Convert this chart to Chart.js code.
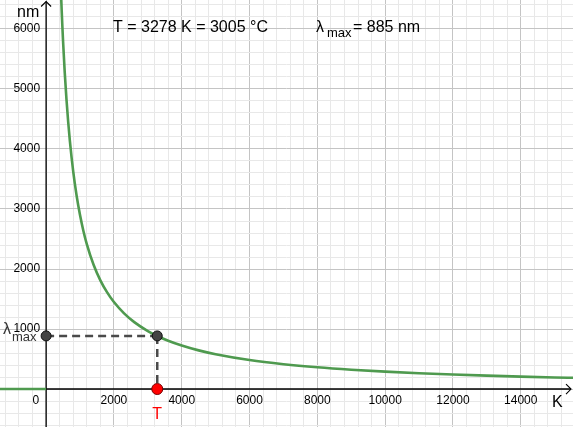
<!DOCTYPE html>
<html><head><meta charset="utf-8">
<script src="https://cdn.jsdelivr.net/npm/chart.js@4"></script>
<style>html,body{margin:0;padding:0;background:#fff;overflow:hidden}canvas{display:block}</style>
</head><body>
<canvas id="c" width="573" height="427"></canvas>
<script>
// Data (Wien's law curve, K -> nm)
const temps = [440, 460, 480, 500, 550, 600, 650, 700, 800, 900, 1000, 1100, 1200, 1400, 1600, 1800, 2000, 2300, 2600, 3000, 3278, 3600, 4000, 4500, 5000, 6000, 7000, 8000, 9000, 10000, 11000, 12000, 13000, 14000, 15000, 15600];
const lambdas = [6586, 6300, 6037, 5796, 5269, 4830, 4458, 4140, 3622, 3220, 2898, 2634, 2415, 2070, 1811, 1610, 1449, 1260, 1115, 966, 884, 805, 725, 644, 580, 483, 414, 362, 322, 290, 263, 241, 223, 207, 193, 186];
const zeroPartX = [-1360, 0];
const zeroPartY = [0, 0];
const selT = 3278;
const selLambda = 885;
const selC = 3005;
const xTickLabels = [0, 2000, 4000, 6000, 8000, 10000, 12000, 14000];
const yTickLabels = [1000, 2000, 3000, 4000, 5000, 6000];

const FONT = '"Liberation Sans", Arial, sans-serif';
const curvePts = temps.map((t, i) => ({x: t, y: lambdas[i]}));
const zeroPts = zeroPartX.map((x, i) => ({x, y: zeroPartY[i]}));

const overlay = {
  id: 'overlay',
  beforeDatasetsDraw(chart) {
    const ctx = chart.ctx, xs = chart.scales.x, ys = chart.scales.y;
    const x0 = xs.getPixelForValue(0), y0 = ys.getPixelForValue(0);
    const W = chart.width;
    ctx.save();
    ctx.strokeStyle = '#000'; ctx.lineWidth = 1.3;
    ctx.beginPath();
    ctx.moveTo(0, y0); ctx.lineTo(W - 2, y0);
    ctx.moveTo(x0, chart.height); ctx.lineTo(x0, 1.5);
    ctx.stroke();
    ctx.lineWidth = 1.1;
    ctx.beginPath();
    ctx.moveTo(W - 7, y0 - 5); ctx.lineTo(W - 2, y0); ctx.lineTo(W - 7, y0 + 5);
    ctx.moveTo(x0 - 5, 6.5); ctx.lineTo(x0, 1.5); ctx.lineTo(x0 + 5, 6.5);
    ctx.stroke();
    // tick labels
    ctx.fillStyle = '#000';
    ctx.font = '12px ' + FONT;
    ctx.textBaseline = 'middle';
    ctx.textAlign = 'right';
    yTickLabels.forEach(v => ctx.fillText(String(v), x0 - 6, ys.getPixelForValue(v)));
    ctx.textAlign = 'center';
    xTickLabels.forEach(v => {
      if (v === 0) { ctx.textAlign = 'right'; ctx.fillText('0', x0 - 7, y0 + 12); ctx.textAlign = 'center'; }
      else ctx.fillText(String(v), xs.getPixelForValue(v), y0 + 12);
    });
    // axis names
    ctx.font = '16px ' + FONT;
    ctx.textBaseline = 'alphabetic';
    ctx.textAlign = 'left';
    ctx.fillText('nm', 17, 17);
    ctx.fillText('K', 552, 407);
    // header text
    ctx.fillText('T = ' + selT + ' K = ' + selC + ' °C', 113, 31.5);
    ctx.fillText('λ', 316, 31.5);
    ctx.font = '13px ' + FONT;
    ctx.fillText('max', 327, 37);
    ctx.font = '16px ' + FONT;
    ctx.fillText('= ' + selLambda + ' nm', 353, 31.5);
    // lambda_max label on y axis
    ctx.fillStyle = '#333';
    ctx.fillText('λ', 3, 334);
    ctx.font = '13px ' + FONT;
    ctx.fillText('max', 12, 341);
    // T label
    ctx.fillStyle = '#ff0000';
    ctx.font = '16px ' + FONT;
    ctx.textAlign = 'center';
    ctx.fillText('T', xs.getPixelForValue(selT), 419);
    ctx.restore();
  }
};

function gridColor(major, majCol, minCol) {
  return (c) => {
    const v = c.tick ? Math.round(c.tick.value) : NaN;
    if (!isFinite(v)) return 'rgba(0,0,0,0)';
    return v % major === 0 ? majCol : minCol;
  };
}
function gridTicks(step) {
  return (scale) => {
    const t = [];
    for (let v = Math.ceil(scale.min / step) * step; v <= scale.max; v += step) t.push({value: v});
    scale.ticks = t;
  };
}

new Chart(document.getElementById('c'), {
  type: 'scatter',
  data: {
    datasets: [
      {data: [{x: 0, y: selLambda}, {x: selT, y: selLambda}], showLine: true, borderColor: '#4a4a4a', borderWidth: 2.5, borderDash: [8, 5], pointRadius: 0, order: 3},
      {data: [{x: selT, y: selLambda}, {x: selT, y: 0}], showLine: true, borderColor: '#4a4a4a', borderWidth: 2.5, borderDash: [8, 5], pointRadius: 0, order: 3},
      {data: curvePts, showLine: true, borderColor: '#4f9a4f', borderWidth: 2.6, pointRadius: 0, cubicInterpolationMode: 'monotone', order: 2},
      {data: zeroPts, showLine: true, borderColor: '#4f9a4f', borderWidth: 2.6, pointRadius: 0, order: 2},
      {data: [{x: 0, y: selLambda}, {x: selT, y: selLambda}], showLine: false, pointRadius: 5, backgroundColor: '#444', borderColor: '#111', borderWidth: 1, order: 1},
      {data: [{x: selT, y: 0}], showLine: false, pointRadius: 5.5, backgroundColor: '#ff0000', borderColor: '#700', borderWidth: 1, order: 0}
    ]
  },
  options: {
    responsive: false,
    animation: false,
    devicePixelRatio: 1,
    layout: {padding: 0, autoPadding: false},
    plugins: {legend: {display: false}, tooltip: {enabled: false}},
    events: [],
    scales: {
      x: {type: 'linear', min: -1360, max: 15540,
          afterBuildTicks: gridTicks(400),
          ticks: {display: false},
          border: {display: false},
          grid: {drawTicks: false, lineWidth: 1, color: gridColor(2000, '#c4c4c4', '#e8e8e8')}},
      y: {type: 'linear', min: -633, max: 6483,
          afterBuildTicks: gridTicks(200),
          ticks: {display: false},
          border: {display: false},
          grid: {drawTicks: false, lineWidth: 1, color: gridColor(1000, '#c4c4c4', '#e8e8e8')}}
    }
  },
  plugins: [overlay]
});
</script>
</body></html>
